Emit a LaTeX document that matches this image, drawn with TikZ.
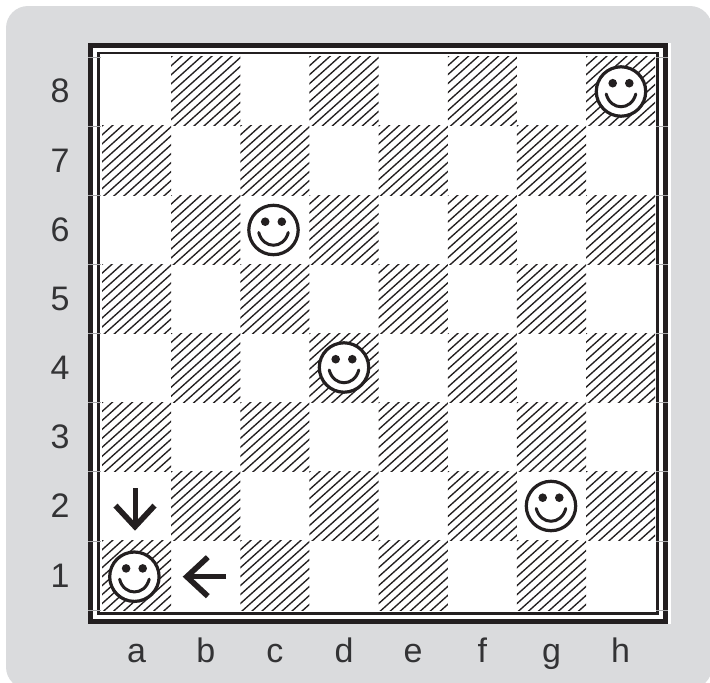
\documentclass[tikz,border=0pt]{standalone}
\usepackage{fontspec}
\setmainfont{Liberation Sans}
\usetikzlibrary{arrows.meta}
\definecolor{boardpanel}{HTML}{DADBDD}
\definecolor{boardink}{HTML}{231F20}
\definecolor{boardtext}{HTML}{333335}
\definecolor{boardtick}{HTML}{A9A9AB}
\tikzset{
  ranklabel/.style={text=boardtext, anchor=base, inner sep=0pt, font=\fontsize{34}{34}\selectfont},
  filelabel/.style={ranklabel},
  hatchline/.style={draw=boardink, line width=1.35pt},
  boardtickline/.style={draw=boardtick, line width=0.6pt},
  movearrow/.style={draw=boardink, line width=5pt, -{Straight Barb[length=21pt,width=39pt,line width=5.6pt]}},
  smiley/.pic={
    \draw[boardink, line width=3.2pt, fill=white] (0,0) circle (24.7);
    \fill[boardink] (-8.3,-8.3) circle (4.3);
    \fill[boardink] (8.3,-8.3) circle (4.3);
    \draw[boardink, line width=3pt, line cap=round] (-14.8,2.5) .. controls (-10.5,19.5) and (10.5,19.5) .. (14.8,2.5);
  }
}

\begin{document}
\begin{tikzpicture}[x=1pt,y=-1pt]
  \useasboundingbox (0,0) rectangle (710,683);
  \begin{scope}
    \clip (0,0) rectangle (710,683);
    \fill[boardpanel, rounded corners=22pt] (6,6) rectangle (712,689);
  \end{scope}
  % board
  \fill[white] (88,43) rectangle (671,624);
  \draw[boardink, line width=4.4pt] (90.5,45.5) rectangle (665.5,621.5);
  \draw[boardink, line width=2.7pt] (98.2,53) rectangle (657.8,613.5);
  % dark squares
  \foreach \f in {1,...,8} {
    \foreach \r in {1,...,8} {
      \pgfmathtruncatemacro{\oddsq}{mod(\f+\r,2)}
      \ifnum\oddsq=0
        \pgfmathsetmacro{\sx}{102+(\f-1)*69.15}
        \pgfmathsetmacro{\sy}{610-\r*69.15}
        \begin{scope}
          \clip (\sx,\sy) rectangle ++(69.15,69.15);
          \foreach \k in {-1,...,15}
            \draw[hatchline] ({\sx+10+\k*10-138.3},{\sy+124}) -- ++(276.6,-248);
        \end{scope}
      \fi
    }
  }
  % ticks on the frame
  \foreach \r in {0,...,8} {
    \draw[boardtickline] (88,{610-\r*69.15}) -- (101,{610-\r*69.15});
    \draw[boardtickline] (656,{610-\r*69.15}) -- (668,{610-\r*69.15});
  }
  % labels
  \foreach \r in {1,...,8}
    \node[ranklabel] (rank\r) at (60,{587-(\r-1)*69.15}) {\r};
  \foreach \f [count=\i from 0] in {a,b,c,d,e,f,g,h}
    \node[filelabel] (file\f) at ({136.6+\i*69.15},662) {\f};
  % pieces
  \pic at (621,91.5) {smiley};
  \pic at (273.5,230) {smiley};
  \pic at (344,367.5) {smiley};
  \pic at (551,506) {smiley};
  \pic at (134.4,576.7) {smiley};
  % moves
  \coordinate (downfrom) at (135,488);
  \coordinate (downto) at (135,530.7);
  \coordinate (leftfrom) at (226,576.7);
  \coordinate (leftto) at (182.7,576.7);
  \draw[movearrow] (downfrom) -- (downto);
  \draw[movearrow] (leftfrom) -- (leftto);
\end{tikzpicture}
\end{document}
